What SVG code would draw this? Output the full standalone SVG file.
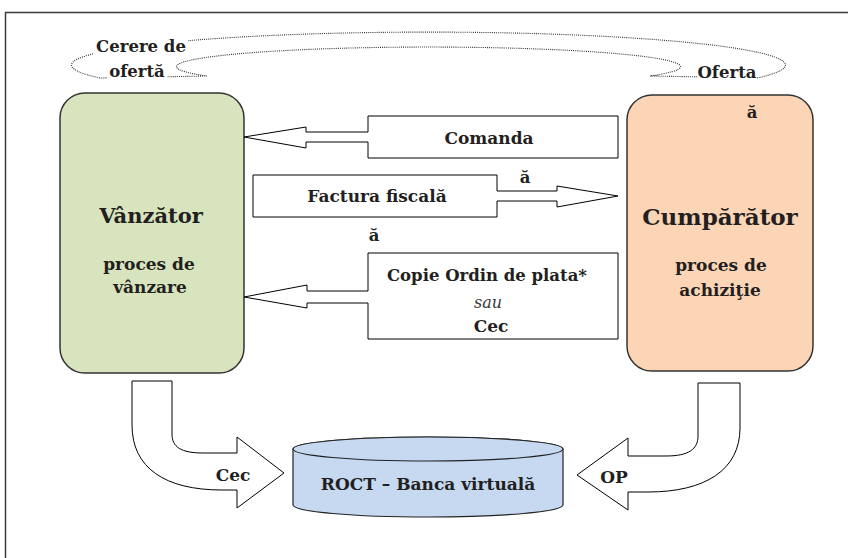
<svg xmlns="http://www.w3.org/2000/svg" width="848" height="558" viewBox="0 0 848 558">
  <defs>
    <style>
      .frame { fill: none; stroke: #3a3a3a; stroke-width: 1.5; }
      .party { stroke: #333333; stroke-width: 1.5; }
      .block { fill: #ffffff; stroke: #000000; stroke-width: 1; stroke-linejoin: miter; }
      .loop { fill: none; stroke: #333333; stroke-width: 1.1; stroke-dasharray: 1 1.1; }
      .mask { fill: #ffffff; stroke: none; }
      text { font-family: "DejaVu Serif", "Liberation Serif", serif; fill: #231f20; text-anchor: middle; }
      .b { font-weight: bold; }
      .t17 { font-size: 17px; }
      .t16 { font-size: 16.5px; }
      .big { font-size: 21px; }
      .huge { font-size: 23px; }
      .it { font-style: italic; font-size: 16px; fill: #3a3a3a; }
    </style>
  </defs>

  <rect x="0" y="0" width="848" height="558" fill="#ffffff"/>
  <!-- page frame -->
  <path class="frame" d="M5.5,558 V12.5 H848"/>

  <!-- offer / request-for-offer loop -->
  <g id="offer-loop">
    <path class="loop" d="M100,78 A357,33 0 1 1 757,78 L650,76 A252,19.6 0 1 0 207,76 Z"/>
    <rect class="mask" x="94" y="37" width="94" height="18"/>
    <rect class="mask" x="107" y="63" width="60" height="18"/>
    <rect class="mask" x="697" y="63" width="60" height="18"/>
    <text class="b t16" x="141" y="52">Cerere de</text>
    <text class="b t16" x="137" y="77">ofertă</text>
    <text class="b t16" x="727" y="78">Oferta</text>
  </g>

  <!-- seller -->
  <g id="node-vanzator">
    <rect class="party" x="60" y="93" width="184" height="280" rx="25" ry="25" fill="#d7e4bd"/>
    <text class="b big" x="151" y="223">Vânzător</text>
    <text class="b t17" x="149" y="270">proces de</text>
    <text class="b t17" x="150" y="293">vânzare</text>
  </g>

  <!-- buyer -->
  <g id="node-cumparator">
    <rect class="party" x="627" y="95" width="186" height="276" rx="25" ry="25" fill="#fbd5b5"/>
    <text class="b t16" x="752" y="118">ă</text>
    <text class="b huge" x="720" y="225">Cumpărător</text>
    <text class="b t17" x="721" y="271">proces de</text>
    <text class="b t17" x="720" y="296">achiziţie</text>
  </g>

  <!-- virtual bank -->
  <g id="node-banca">
    <path d="M293,449 A135,12 0 0 1 563,449 V505 A135,12 0 0 1 293,505 Z" fill="#c6d9f1" stroke="#222222" stroke-width="1.2"/>
    <ellipse cx="428" cy="449" rx="135" ry="12" fill="#c6d9f1" stroke="#222222" stroke-width="1.2"/>
    <text class="b t17" x="428" y="490">ROCT – Banca virtuală</text>
  </g>

  <!-- document flows -->
  <g id="connectors">
    <g id="flow-comanda">
      <path class="block" d="M618,116 H368 V132 H306 V127 L244,137 L306,148 V142 H368 V158 H618 Z"/>
      <text class="b t17" x="489" y="144">Comanda</text>
    </g>
    <g id="flow-factura">
      <path class="block" d="M253,175 H497 V191 H557 V186 L618,196 L557,207 V201 H497 V217 H253 Z"/>
      <text class="b t17" x="377" y="202">Factura fiscală</text>
      <text class="b t16" x="525" y="183">ă</text>
    </g>
    <g id="flow-plata">
      <text class="b t16" x="374" y="241">ă</text>
      <path class="block" d="M618,253 H368 V291 H307 V285 L244,297 L307,308 V303 H368 V339 H618 Z"/>
      <text class="b t16" x="487" y="281">Copie Ordin de plata*</text>
      <text class="it" x="488" y="308">sau</text>
      <text class="b t17" x="491" y="332">Cec</text>
    </g>
    <g id="flow-cec">
      <path class="block" d="M132,381 H172 V434 C172,447 181,453 203,453 H237 V437 L284,473 L237,508 V490 H222 C165,490 132,468 132,425 Z"/>
      <text class="b t17" x="233" y="481">Cec</text>
    </g>
    <g id="flow-op">
      <path class="block" d="M740,383 H698 V436 C698,449 689,456 666,456 H628 V438 L577,475 L628,510 V492 H648 C705,492 740,470 740,428 Z"/>
      <text class="b t17" x="614" y="483">OP</text>
    </g>
  </g>
</svg>
